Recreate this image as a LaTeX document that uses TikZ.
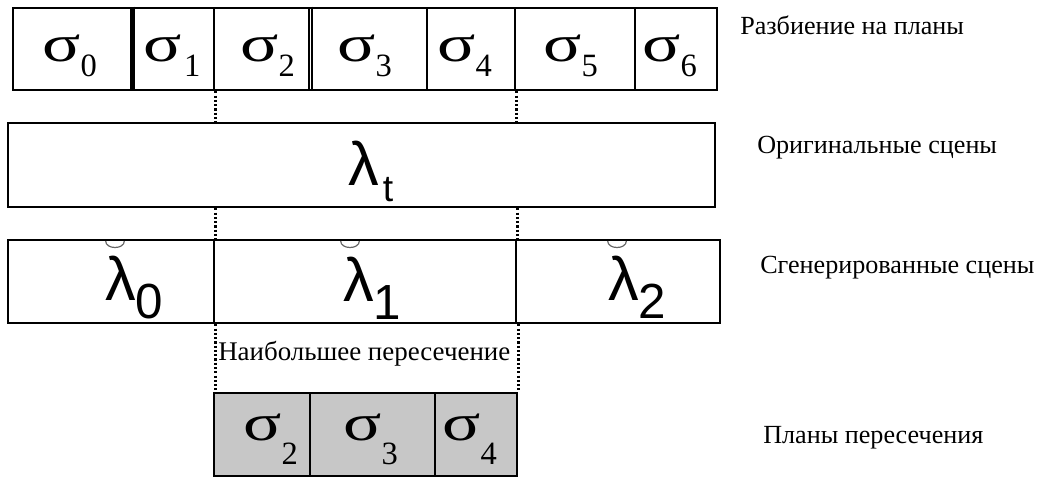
\documentclass[tikz,border=0pt]{standalone}
\usepackage{fontspec}
\setmainfont{Liberation Serif}
\newfontfamily\lsans{Liberation Sans}
\usetikzlibrary{fit}
\newcommand\subdn[3]{\raisebox{-#1}{\fontsize{#2}{#2}\selectfont #3}}
\newcommand\wsig{\scalebox{1.3}[0.95]{σ}}
\begin{document}
\begin{tikzpicture}[x=0.75pt,y=-0.75pt,
  box/.style={draw, line width=2pt, inner sep=0pt},
  shaded/.style={box, fill=black!22},
  dots/.style={line width=1.8pt, dash pattern=on 1.6pt off 1.6pt},
  lab/.style={anchor=base west, inner sep=0pt, font=\fontsize{19.6}{22}\selectfont},
  midlab/.style={anchor=base west, inner sep=0pt, font=\fontsize{20.2}{22}\selectfont},
  sig/.style={anchor=base west, inner sep=0pt, font=\fontsize{41}{41}\selectfont},
  lam/.style={anchor=base west, inner sep=0pt, font=\lsans\fontsize{46}{46}\selectfont},
  cup/.style={line width=0.9pt, black!60}]
\useasboundingbox (0,0) rectangle (1050,478);
% row 1 : planes
\path (13,8) coordinate (a0) (131,90) coordinate (b0)
      (131,8) coordinate (a1) (214,90) coordinate (b1)
      (214,8) coordinate (a2) (309,90) coordinate (b2)
      (309,8) coordinate (a3) (427,90) coordinate (b3)
      (427,8) coordinate (a4) (515,90) coordinate (b4)
      (515,8) coordinate (a5) (635,90) coordinate (b5)
      (635,8) coordinate (a6) (717,90) coordinate (b6);
\foreach \i in {0,...,6} {\node[box, fit=(a\i)(b\i)] (s\i) {};}
\draw[line width=3.5pt] (s0.north east) -- (s0.south east);
\draw[line width=1.6pt] ([xshift=3pt]s3.north west) -- ([xshift=3pt]s3.south west);
% row 2 : original scenes
\path (8,123) coordinate (ta) (715,207) coordinate (tb);
\node[box, fit=(ta)(tb)] (lt) {};
% row 3 : generated scenes
\path (8,240) coordinate (g0a) (214,323) coordinate (g0b)
      (214,240) coordinate (g1a) (516,323) coordinate (g1b)
      (516,240) coordinate (g2a) (720,323) coordinate (g2b);
\foreach \i in {0,1,2} {\node[box, fit=(g\i a)(g\i b)] (l\i) {};}
% row 4 : intersection planes
\path (214,393) coordinate (i2a) (310,476) coordinate (i2b)
      (310,393) coordinate (i3a) (435,476) coordinate (i3b)
      (435,393) coordinate (i4a) (517,476) coordinate (i4b);
\foreach \i in {2,3,4} {\node[shaded, fit=(i\i a)(i\i b)] (p\i) {};}
% dotted guides
\draw[dots] (s1.south east) -- (s1.south east |- lt.north);
\draw[dots] (l0.north east |- lt.south) -- (l0.north east);
\draw[dots] (l0.south east) -- (l0.south east |- p2.north);
\draw[dots] (s4.south east) -- (s4.south east |- lt.north);
\draw[dots] (l1.north east |- lt.south) -- (l1.north east);
\draw[dots] (p4.north east |- l1.south) -- (p4.north east);
% sigma labels row 1
\node[sig] (ts0) at (42,62)  {\wsig\subdn{11.25pt}{24.4}{0}};
\node[sig] (ts1) at (143,62) {\wsig\kern2pt\subdn{11.25pt}{24.4}{1}};
\node[sig] (ts2) at (240,62) {\wsig\subdn{11.25pt}{24.4}{2}};
\node[sig] (ts3) at (337,62) {\wsig\subdn{11.25pt}{24.4}{3}};
\node[sig] (ts4) at (437,62) {\wsig\subdn{11.25pt}{24.4}{4}};
\node[sig] (ts5) at (543,62) {\wsig\subdn{11.25pt}{24.4}{5}};
\node[sig] (ts6) at (642,62) {\wsig\subdn{11.25pt}{24.4}{6}};
% lambda labels
\node[lam] (tlt) at (348,185) {λ\kern3pt\subdn{12.75pt}{28}{t}};
\node[lam] (tl0) at (105,300) {λ\subdn{13.5pt}{37}{0}};
\node[lam] (tl1) at (343,301) {λ\subdn{13.5pt}{37}{1}};
\node[lam] (tl2) at (608,300) {λ\subdn{13.5pt}{37}{2}};
\coordinate (c0) at (115,241);
\coordinate (c1) at (350,241);
\coordinate (c2) at (617,241);
\foreach \c in {c0,c1,c2}
  \draw[cup] ([xshift=-7pt]\c) .. controls ([xshift=-7pt,yshift=-6.5pt]\c) and ([xshift=7pt,yshift=-6.5pt]\c) .. ([xshift=7pt]\c);
% sigma labels row 4
\node[sig] (tp2) at (243,440) {\wsig\subdn{18pt}{24.4}{2}};
\node[sig] (tp3) at (343,440) {\wsig\subdn{18pt}{24.4}{3}};
\node[sig] (tp4) at (442,440) {\wsig\subdn{18pt}{24.4}{4}};
% text labels
\node[midlab] (mid) at (218,360) {Наибольшее пересечение};
\node[lab] (r1) at (740,35)  {Разбиение на планы};
\node[lab] (r2) at (757,153) {Оригинальные сцены};
\node[lab] (r3) at (760,273) {Сгенерированные сцены};
\node[lab] (r4) at (763,443) {Планы пересечения};
\end{tikzpicture}
\end{document}
